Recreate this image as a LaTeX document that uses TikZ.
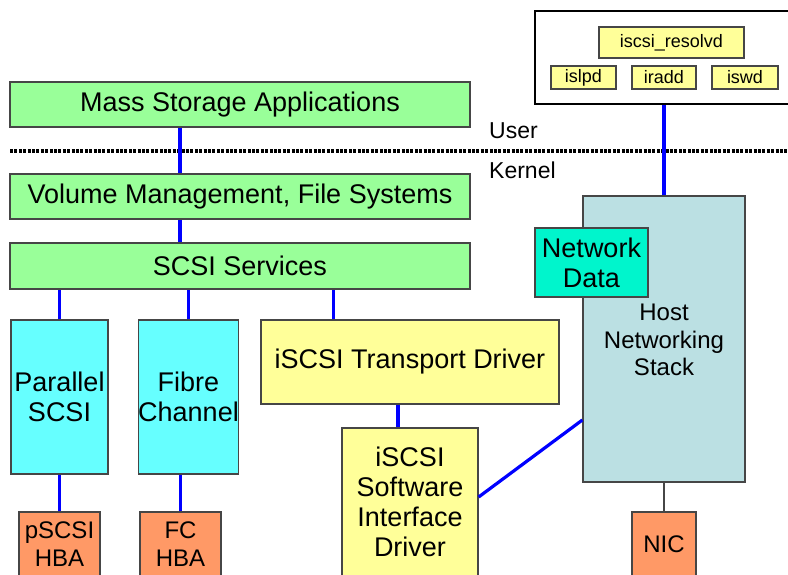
\documentclass[tikz,border=0pt]{standalone}
\usepackage{fontspec}
\setmainfont{Liberation Sans}
\definecolor{appgreen}{RGB}{153,255,153}
\definecolor{hbacyan}{RGB}{102,255,255}
\definecolor{drvyellow}{RGB}{255,255,153}
\definecolor{hworange}{RGB}{255,153,102}
\definecolor{stackblue}{RGB}{187,224,227}
\definecolor{datateal}{RGB}{0,245,204}
\definecolor{edgegray}{RGB}{70,70,70}
\begin{document}
\begin{tikzpicture}[x=1pt,y=-1pt,
  box/.style={draw=edgegray, line width=1.3pt, inner sep=0pt, align=center,
    font=\fontsize{27}{30}\selectfont},
  smallbox/.style={box, fill=drvyellow, font=\fontsize{18}{20}\selectfont},
  hwbox/.style={box, fill=hworange, font=\fontsize{24}{28}\selectfont},
  link/.style={draw=blue, line width=3.2pt},
  plainlink/.style={draw=edgegray, line width=1.3pt},
  lbl/.style={anchor=west, inner sep=0pt, font=\fontsize{23}{26}\selectfont}]
\useasboundingbox (0,0) rectangle (788,574);
\clip (0,0) rectangle (788,574);

% user / kernel boundary
\coordinate (bndL) at (10,151);
\coordinate (bndR) at (790,151);
\draw[line width=3.5pt, dash pattern=on 3pt off 1.4pt] (bndL) -- (bndR);
\node[lbl] (user) at (489,131) {User};
\node[lbl] (kernel) at (489,170) {Kernel};

% user-space daemons
\node[draw=black, line width=2.6pt, minimum width=265pt, minimum height=93pt] (daemons) at (667.5,57.5) {};
\node[smallbox, minimum width=145pt, minimum height=31pt] (resolvd) at (671.5,42.5) {iscsi\_resolvd};
\node[smallbox, minimum width=65pt, minimum height=23pt] (islpd) at (583.5,77.5) {islpd};
\node[smallbox, minimum width=64pt, minimum height=23pt] (iradd) at (664,77.5) {iradd};
\node[smallbox, minimum width=66pt, minimum height=23pt] (iswd) at (745,77.5) {iswd};

% storage stack
\node[box, fill=appgreen, minimum width=460pt, minimum height=45pt] (mass) at (240,104.5) {Mass Storage Applications};
\node[box, fill=appgreen, minimum width=460pt, minimum height=45pt] (vol) at (240,196.5) {Volume Management, File Systems};
\node[box, fill=appgreen, minimum width=460pt, minimum height=46pt] (scsi) at (240,266) {SCSI Services};

\node[box, fill=hbacyan, minimum width=97pt, minimum height=154pt] (par) at (59.5,397) {Parallel\\SCSI};
\node[box, fill=hbacyan, minimum width=97pt, minimum height=154pt] (fib) at (188.5,397) {Fibre\\Channel};
\node[box, fill=drvyellow, minimum width=298pt, minimum height=84pt] (trans) at (410,362) {iSCSI Transport Driver};
\node[box, fill=drvyellow, minimum width=136pt, minimum height=148pt] (soft) at (410,502) {iSCSI\\Software\\Interface\\Driver};

% networking
\node[box, fill=stackblue, minimum width=162pt, minimum height=286pt] (host) at (664,339) {};
\node[inner sep=0pt, align=center, font=\fontsize{24}{27.5}\selectfont] (hostlbl) at (664,340) {Host\\Networking\\Stack};
\node[box, fill=datateal, minimum width=113pt, minimum height=69pt] (netd) at (591.5,262.5) {Network\\Data};

% hardware
\node[hwbox, minimum width=81pt, minimum height=64pt] (pscsi) at (59.5,544) {pSCSI\\HBA};
\node[hwbox, minimum width=81pt, minimum height=64pt] (fchba) at (180.5,544) {FC\\HBA};
\node[hwbox, minimum width=64pt, minimum height=64pt] (nic) at (664,544) {NIC};

% connectors
\coordinate (massx) at ([xshift=-60pt]mass.south);
\draw[link] (massx) -- (massx |- vol.north);
\coordinate (volx) at ([xshift=-60pt]vol.south);
\draw[link] (volx) -- (volx |- scsi.north);
\draw[link] (par.north) -- (par.north |- scsi.south);
\draw[link] (fib.north) -- (fib.north |- scsi.south);
\coordinate (transx) at ([xshift=73pt]trans.north west);
\draw[link] (transx) -- (transx |- scsi.south);
\coordinate (softx) at ([xshift=-12pt]trans.south);
\draw[link] (softx) -- (softx |- soft.north);
\draw[link] (pscsi.north) -- (pscsi.north |- par.south);
\draw[link] (fchba.north) -- (fchba.north |- fib.south);
\draw[link] (host.north) -- (host.north |- daemons.south);
\coordinate (softe) at ([yshift=5pt]soft.east);
\coordinate (hostw) at ([yshift=-81pt]host.west);
\draw[link] (softe) -- (hostw);
\draw[plainlink] (host.south) -- (nic.north);
\end{tikzpicture}
\end{document}
